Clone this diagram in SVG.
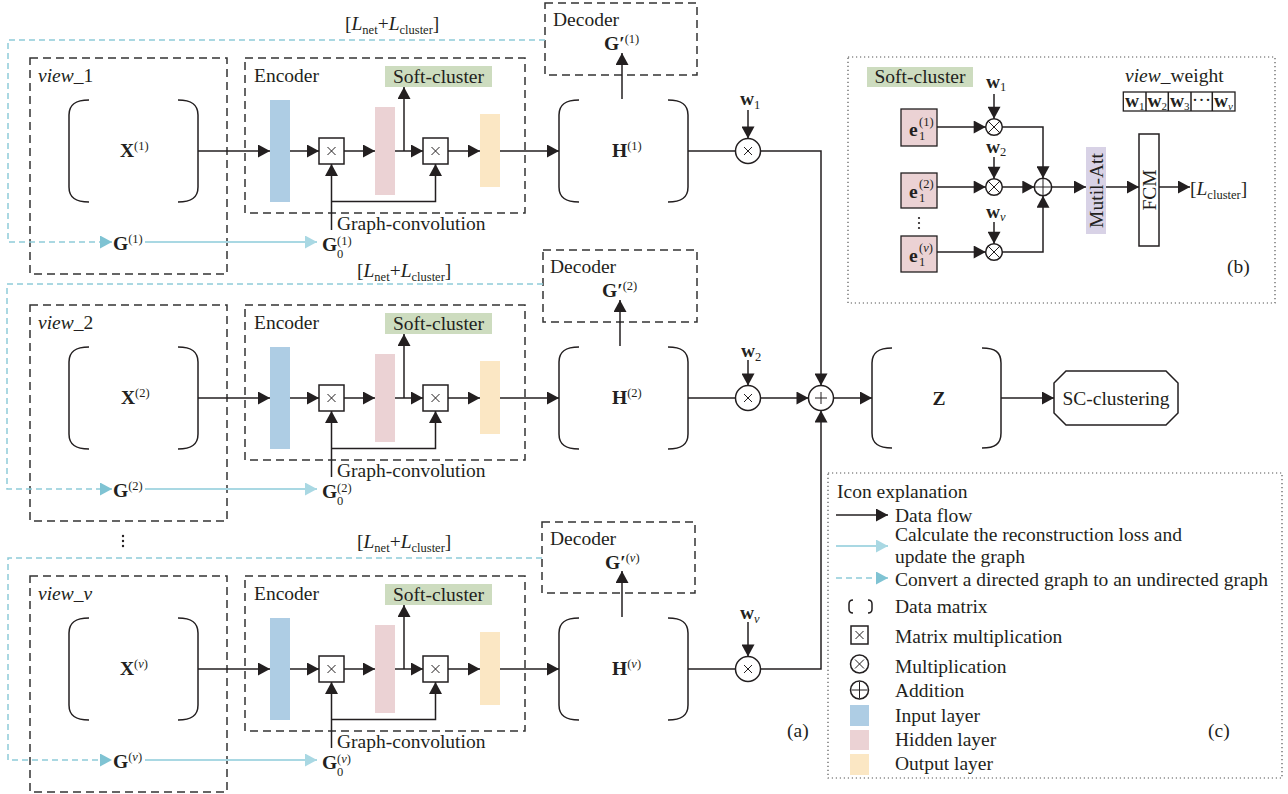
<svg xmlns="http://www.w3.org/2000/svg" width="1288" height="794" viewBox="0 0 1288 794">
<defs>
<style>
.t{font-family:"Liberation Serif","Times New Roman",serif;font-size:19.5px;fill:#231f20}
.s{font-size:12.5px}
.b{font-weight:bold}
.i{font-style:italic}
.dbox{fill:none;stroke:#333;stroke-width:1.5;stroke-dasharray:8 5}
.dot{fill:none;stroke:#555;stroke-width:1.2;stroke-dasharray:1.2 2.8}
.ln{fill:none;stroke:#231f20;stroke-width:1.5}
.br{fill:none;stroke:#231f20;stroke-width:1.5}
.bl{fill:none;stroke:#a9d8e3;stroke-width:2}
.bd{fill:none;stroke:#8ecbd9;stroke-width:1.5;stroke-dasharray:6 4}
.inl{fill:#aecde4}
.hid{fill:#ebd2d4}
.out{fill:#fbe7c4}
.scf{fill:#cddcbf}
.mm{fill:#fff;stroke:#231f20;stroke-width:1.5}
.xm{stroke:#231f20;stroke-width:1}
.ma{fill:#d8d2e6}
</style>
<marker id="ak" markerUnits="userSpaceOnUse" markerWidth="13" markerHeight="13" viewBox="0 0 12 13" refX="12" refY="6.5" orient="auto"><path d="M0,0 L12,6.5 L0,13z" fill="#231f20"/></marker>
<marker id="ab" markerUnits="userSpaceOnUse" markerWidth="13" markerHeight="13" viewBox="0 0 12 13" refX="12" refY="6.5" orient="auto"><path d="M0,0 L12,6.5 L0,13z" fill="#7fc3d3"/></marker>
<marker id="al" markerUnits="userSpaceOnUse" markerWidth="13" markerHeight="13" viewBox="0 0 12 13" refX="12" refY="6.5" orient="auto"><path d="M0,0 L12,6.5 L0,13z" fill="#a9d8e3"/></marker>
</defs>
<rect width="1288" height="794" fill="#fff"/>

<!-- ============ ROW NODES ============ -->
<!-- Row 1 -->
<g transform="translate(0,0)">
<g id="view_1"><rect class="dbox" x="30" y="58" width="197" height="216"/><text class="t" x="38" y="82"><tspan class="i">view</tspan>_1</text></g>
<g id="X_1"><path class="br" d="M89,100 C76,100 69,104 69,115 V187 C69,198 76,202 89,202 M178,100 C191,100 198,104 198,115 V187 C198,198 191,202 178,202"/><text class="t" x="120" y="157"><tspan class="b">X</tspan><tspan class="s" dy="-7">(1)</tspan></text></g>
<g id="encoder_1"><rect class="dbox" x="245" y="58" width="280" height="155"/><text class="t" x="254" y="82">Encoder</text></g>
<g id="input_1"><rect class="inl" x="270" y="100" width="20" height="102"/></g>
<g id="mm1_1"><rect class="mm" x="319" y="138" width="25" height="26"/><path class="xm" d="M327.5,147 l8,8 M335.5,147 l-8,8"/></g>
<g id="hidden_1"><rect class="hid" x="375" y="107" width="20" height="88"/></g>
<g id="mm2_1"><rect class="mm" x="423" y="138" width="25" height="26"/><path class="xm" d="M431.5,147 l8,8 M439.5,147 l-8,8"/></g>
<g id="output_1"><rect class="out" x="480" y="114" width="20" height="73"/></g>
<g id="soft_1"><rect class="scf" x="385" y="66" width="107" height="21"/><text class="t" x="438.5" y="83" text-anchor="middle">Soft-cluster</text></g>
<g id="H_1"><path class="br" d="M579,100 C566,100 559,104 559,115 V187 C559,198 566,202 579,202 M668,100 C681,100 688,104 688,115 V187 C688,198 681,202 668,202"/><text class="t" x="612" y="157"><tspan class="b">H</tspan><tspan class="s" dy="-7">(1)</tspan></text></g>
<g id="decoder_1"><rect class="dbox" x="545" y="3" width="152" height="72"/><text class="t" x="553" y="26">Decoder</text><text class="t" x="604" y="50"><tspan class="b">G′</tspan><tspan class="s" dy="-7">(1)</tspan></text></g>
<g id="loss_1"><text class="t" x="345" y="30">[<tspan class="i">L</tspan><tspan class="s" dy="4">net</tspan><tspan dy="-4">+</tspan><tspan class="i">L</tspan><tspan class="s" dy="4">cluster</tspan><tspan dy="-4">]</tspan></text></g>
<g id="G_1"><text class="t" x="113" y="250"><tspan class="b">G</tspan><tspan class="s" dy="-7">(1)</tspan></text></g>
<g id="G0_1"><text class="t b" x="322" y="251">G</text><text class="t s" x="337" y="245">(1)</text><text class="t s" x="337" y="258">0</text></g>
<g id="gc_1"><text class="t" x="337" y="230">Graph-convolution</text></g>
</g>

<!-- Row 2 -->
<g transform="translate(0,247)">
<g id="view_2"><rect class="dbox" x="30" y="58" width="197" height="216"/><text class="t" x="38" y="82"><tspan class="i">view</tspan>_2</text></g>
<g id="X_2"><path class="br" d="M89,100 C76,100 69,104 69,115 V187 C69,198 76,202 89,202 M178,100 C191,100 198,104 198,115 V187 C198,198 191,202 178,202"/><text class="t" x="121" y="157"><tspan class="b">X</tspan><tspan class="s" dy="-7">(2)</tspan></text></g>
<g id="encoder_2"><rect class="dbox" x="245" y="58" width="280" height="155"/><text class="t" x="254" y="82">Encoder</text></g>
<g id="input_2"><rect class="inl" x="270" y="100" width="20" height="102"/></g>
<g id="mm1_2"><rect class="mm" x="319" y="138" width="25" height="26"/><path class="xm" d="M327.5,147 l8,8 M335.5,147 l-8,8"/></g>
<g id="hidden_2"><rect class="hid" x="375" y="107" width="20" height="88"/></g>
<g id="mm2_2"><rect class="mm" x="423" y="138" width="25" height="26"/><path class="xm" d="M431.5,147 l8,8 M439.5,147 l-8,8"/></g>
<g id="output_2"><rect class="out" x="480" y="114" width="20" height="73"/></g>
<g id="soft_2"><rect class="scf" x="385" y="66" width="107" height="21"/><text class="t" x="438.5" y="83" text-anchor="middle">Soft-cluster</text></g>
<g id="H_2"><path class="br" d="M579,100 C566,100 559,104 559,115 V187 C559,198 566,202 579,202 M668,100 C681,100 688,104 688,115 V187 C688,198 681,202 668,202"/><text class="t" x="612" y="157"><tspan class="b">H</tspan><tspan class="s" dy="-7">(2)</tspan></text></g>
<g id="decoder_2"><rect class="dbox" x="543" y="3" width="154" height="72"/><text class="t" x="550" y="26">Decoder</text><text class="t" x="602" y="50"><tspan class="b">G′</tspan><tspan class="s" dy="-7">(2)</tspan></text></g>
<g id="loss_2"><text class="t" x="357" y="30">[<tspan class="i">L</tspan><tspan class="s" dy="4">net</tspan><tspan dy="-4">+</tspan><tspan class="i">L</tspan><tspan class="s" dy="4">cluster</tspan><tspan dy="-4">]</tspan></text></g>
<g id="G_2"><text class="t" x="113" y="250"><tspan class="b">G</tspan><tspan class="s" dy="-7">(2)</tspan></text></g>
<g id="G0_2"><text class="t b" x="322" y="251">G</text><text class="t s" x="337" y="245">(2)</text><text class="t s" x="337" y="258">0</text></g>
<g id="gc_2"><text class="t" x="337" y="230">Graph-convolution</text></g>
</g>

<!-- Row v -->
<g transform="translate(0,518)">
<g id="view_v"><rect class="dbox" x="30" y="58" width="197" height="216"/><text class="t" x="38" y="82"><tspan class="i">view</tspan>_<tspan class="i">v</tspan></text></g>
<g id="X_v"><path class="br" d="M89,100 C76,100 69,104 69,115 V187 C69,198 76,202 89,202 M178,100 C191,100 198,104 198,115 V187 C198,198 191,202 178,202"/><text class="t" x="120" y="157"><tspan class="b">X</tspan><tspan class="s" dy="-7">(<tspan class="i">v</tspan>)</tspan></text></g>
<g id="encoder_v"><rect class="dbox" x="245" y="58" width="280" height="155"/><text class="t" x="254" y="82">Encoder</text></g>
<g id="input_v"><rect class="inl" x="270" y="100" width="20" height="102"/></g>
<g id="mm1_v"><rect class="mm" x="319" y="138" width="25" height="26"/><path class="xm" d="M327.5,147 l8,8 M335.5,147 l-8,8"/></g>
<g id="hidden_v"><rect class="hid" x="375" y="107" width="20" height="88"/></g>
<g id="mm2_v"><rect class="mm" x="423" y="138" width="25" height="26"/><path class="xm" d="M431.5,147 l8,8 M439.5,147 l-8,8"/></g>
<g id="output_v"><rect class="out" x="480" y="114" width="20" height="73"/></g>
<g id="soft_v"><rect class="scf" x="385" y="66" width="107" height="21"/><text class="t" x="438.5" y="83" text-anchor="middle">Soft-cluster</text></g>
<g id="H_v"><path class="br" d="M579,100 C566,100 559,104 559,115 V187 C559,198 566,202 579,202 M668,100 C681,100 688,104 688,115 V187 C688,198 681,202 668,202"/><text class="t" x="612" y="157"><tspan class="b">H</tspan><tspan class="s" dy="-7">(<tspan class="i">v</tspan>)</tspan></text></g>
<g id="decoder_v"><rect class="dbox" x="542" y="4" width="153" height="71"/><text class="t" x="550" y="27">Decoder</text><text class="t" x="605" y="51"><tspan class="b">G′</tspan><tspan class="s" dy="-7">(<tspan class="i">v</tspan>)</tspan></text></g>
<g id="loss_v"><text class="t" x="357" y="30">[<tspan class="i">L</tspan><tspan class="s" dy="4">net</tspan><tspan dy="-4">+</tspan><tspan class="i">L</tspan><tspan class="s" dy="4">cluster</tspan><tspan dy="-4">]</tspan></text></g>
<g id="G_v"><text class="t" x="113" y="250"><tspan class="b">G</tspan><tspan class="s" dy="-7">(<tspan class="i">v</tspan>)</tspan></text></g>
<g id="G0_v"><text class="t b" x="322" y="251">G</text><text class="t s" x="337" y="245">(<tspan class="i">v</tspan>)</text><text class="t s" x="337" y="258">0</text></g>
<g id="gc_v"><text class="t" x="337" y="230">Graph-convolution</text></g>
</g>

<g id="vdots"><circle cx="123" cy="536" r="1.2" fill="#231f20"/><circle cx="123" cy="541" r="1.2" fill="#231f20"/><circle cx="123" cy="546" r="1.2" fill="#231f20"/></g>

<!-- weighting / fusion -->
<g id="wmul_1"><circle class="mm" cx="748" cy="151" r="12.5"/><path class="xm" d="M744,147 l8,8 M752,147 l-8,8"/><text class="t" x="740" y="105"><tspan class="b">w</tspan><tspan class="s" dy="4">1</tspan></text></g>
<g id="wmul_2"><circle class="mm" cx="748" cy="398" r="12.5"/><path class="xm" d="M744,394 l8,8 M752,394 l-8,8"/><text class="t" x="741" y="357"><tspan class="b">w</tspan><tspan class="s" dy="4">2</tspan></text></g>
<g id="wmul_v"><circle class="mm" cx="748" cy="669" r="12.5"/><path class="xm" d="M744,665 l8,8 M752,665 l-8,8"/><text class="t" x="740" y="619"><tspan class="b">w</tspan><tspan class="s i" dy="4">v</tspan></text></g>
<g id="add"><circle class="mm" cx="821" cy="398" r="12.5"/><path class="xm" d="M821,392 v12 M815,398 h12"/></g>
<g id="Z"><path class="br" d="M892,348 C879,348 872,352 872,363 V433 C872,444 879,448 892,448 M982,348 C995,348 1001,352 1001,363 V433 C1001,444 995,448 982,448"/><text class="t b" x="939" y="405" text-anchor="middle">Z</text></g>
<g id="sc"><polygon class="mm" points="1066,371 1166,371 1178,383 1178,413 1166,425 1066,425 1054,413 1054,383"/><text class="t" x="1116" y="405" text-anchor="middle">SC-clustering</text></g>
<g id="label_a"><text class="t" x="787" y="737">(a)</text></g>

<!-- ============ CONNECTORS ============ -->
<g id="connectors">
<g transform="translate(0,0)">
<path class="bd" d="M545,40 H8 V242 H112" marker-end="url(#ab)"/>
<path class="bl" d="M145,242 H317" marker-end="url(#al)"/>
<path class="ln" d="M198,151 H270" marker-end="url(#ak)"/>
<path class="ln" d="M290,151 H319" marker-end="url(#ak)"/>
<path class="ln" d="M344,151 H375" marker-end="url(#ak)"/>
<path class="ln" d="M395,151 H423" marker-end="url(#ak)"/>
<path class="ln" d="M404,151 V87" marker-end="url(#ak)"/>
<path class="ln" d="M448,151 H480" marker-end="url(#ak)"/>
<path class="ln" d="M500,151 H559" marker-end="url(#ak)"/>
<path class="ln" d="M622,99 V53" marker-end="url(#ak)"/>
<path class="ln" d="M331.5,230 V164" marker-end="url(#ak)"/>
<path class="ln" d="M331.5,201.5 H435.5 V164" marker-end="url(#ak)"/>
<path class="ln" d="M688,151 H735.5"/>
</g>
<g transform="translate(0,247)">
<path class="bd" d="M543,37 H7 V242 H112" marker-end="url(#ab)"/>
<path class="bl" d="M145,242 H317" marker-end="url(#al)"/>
<path class="ln" d="M198,151 H270" marker-end="url(#ak)"/>
<path class="ln" d="M290,151 H319" marker-end="url(#ak)"/>
<path class="ln" d="M344,151 H375" marker-end="url(#ak)"/>
<path class="ln" d="M395,151 H423" marker-end="url(#ak)"/>
<path class="ln" d="M404,151 V87" marker-end="url(#ak)"/>
<path class="ln" d="M448,151 H480" marker-end="url(#ak)"/>
<path class="ln" d="M500,151 H559" marker-end="url(#ak)"/>
<path class="ln" d="M620,99 V53" marker-end="url(#ak)"/>
<path class="ln" d="M331.5,230 V164" marker-end="url(#ak)"/>
<path class="ln" d="M331.5,201.5 H435.5 V164" marker-end="url(#ak)"/>
<path class="ln" d="M688,151 H735.5"/>
</g>
<g transform="translate(0,518)">
<path class="bd" d="M542,40 H8 V242 H112" marker-end="url(#ab)"/>
<path class="bl" d="M145,242 H317" marker-end="url(#al)"/>
<path class="ln" d="M198,151 H270" marker-end="url(#ak)"/>
<path class="ln" d="M290,151 H319" marker-end="url(#ak)"/>
<path class="ln" d="M344,151 H375" marker-end="url(#ak)"/>
<path class="ln" d="M395,151 H423" marker-end="url(#ak)"/>
<path class="ln" d="M404,151 V87" marker-end="url(#ak)"/>
<path class="ln" d="M448,151 H480" marker-end="url(#ak)"/>
<path class="ln" d="M500,151 H559" marker-end="url(#ak)"/>
<path class="ln" d="M622,99 V53" marker-end="url(#ak)"/>
<path class="ln" d="M331.5,230 V164" marker-end="url(#ak)"/>
<path class="ln" d="M331.5,201.5 H435.5 V164" marker-end="url(#ak)"/>
<path class="ln" d="M688,151 H735.5"/>
</g>
<path class="ln" d="M748,110 V138.5" marker-end="url(#ak)"/>
<path class="ln" d="M748,360 V385.5" marker-end="url(#ak)"/>
<path class="ln" d="M748,622 V656.5" marker-end="url(#ak)"/>
<path class="ln" d="M760.5,151 H821 V385.5" marker-end="url(#ak)"/>
<path class="ln" d="M760.5,398 H808.5" marker-end="url(#ak)"/>
<path class="ln" d="M760.5,669 H821 V410.5" marker-end="url(#ak)"/>
<path class="ln" d="M833.5,398 H872" marker-end="url(#ak)"/>
<path class="ln" d="M1001,398 H1054" marker-end="url(#ak)"/>
<!-- panel b connectors -->
<path class="ln" d="M937,127 H985.7" marker-end="url(#ak)"/>
<path class="ln" d="M937,187 H985.7" marker-end="url(#ak)"/>
<path class="ln" d="M937,252 H985.7" marker-end="url(#ak)"/>
<path class="ln" d="M994,94 V118.7" marker-end="url(#ak)"/>
<path class="ln" d="M994,157 V178.7" marker-end="url(#ak)"/>
<path class="ln" d="M994,222 V243.7" marker-end="url(#ak)"/>
<path class="ln" d="M1002.3,127 H1043 V178.3" marker-end="url(#ak)"/>
<path class="ln" d="M1002.3,187 H1034.3" marker-end="url(#ak)"/>
<path class="ln" d="M1002.3,252 H1043 V195.7" marker-end="url(#ak)"/>
<path class="ln" d="M1051.7,187 H1086" marker-end="url(#ak)"/>
<path class="ln" d="M1106,187 H1139" marker-end="url(#ak)"/>
<path class="ln" d="M1159,187 H1190" marker-end="url(#ak)"/>
</g>

<!-- ============ PANEL (b) ============ -->
<g id="panel_b">
<rect class="dot" x="848" y="57" width="427" height="246"/>
<g id="b_soft"><rect class="scf" x="867" y="67" width="106" height="20"/><text class="t" x="920" y="83" text-anchor="middle">Soft-cluster</text></g>
<g id="b_vw"><text class="t" x="1125" y="82"><tspan class="i">view</tspan>_weight</text>
<rect x="1123.3" y="92" width="111.7" height="19" fill="#fff" stroke="#231f20" stroke-width="1.3"/>
<path class="ln" d="M1146,92 v19 M1168.3,92 v19 M1191,92 v19 M1212.3,92 v19" stroke-width="1.3"/>
<text class="t" x="1125" y="107" font-size="16"><tspan class="b">w</tspan><tspan font-size="11" dy="3">1</tspan></text>
<text class="t" x="1147.5" y="107" font-size="16"><tspan class="b">w</tspan><tspan font-size="11" dy="3">2</tspan></text>
<text class="t" x="1170" y="107" font-size="16"><tspan class="b">w</tspan><tspan font-size="11" dy="3">3</tspan></text>
<text class="t" x="1201.6" y="106" font-size="16" text-anchor="middle">···</text>
<text class="t" x="1214" y="107" font-size="16"><tspan class="b">w</tspan><tspan font-size="11" dy="3" class="i">v</tspan></text>
</g>
<g id="b_e1"><rect class="hid" x="901" y="109" width="36" height="37" stroke="#231f20" stroke-width="1.3"/><text class="t b" x="909" y="136">e</text><text class="t s" x="919" y="126">(1)</text><text class="t s" x="919" y="140">1</text></g>
<g id="b_e2"><rect class="hid" x="901" y="173" width="36" height="35" stroke="#231f20" stroke-width="1.3"/><text class="t b" x="909" y="198">e</text><text class="t s" x="919" y="188">(2)</text><text class="t s" x="919" y="202">1</text></g>
<g id="b_ev"><rect class="hid" x="901" y="236" width="36" height="36" stroke="#231f20" stroke-width="1.3"/><text class="t b" x="909" y="262">e</text><text class="t s" x="919" y="252">(<tspan class="i">v</tspan>)</text><text class="t s" x="919" y="266">1</text></g>
<g id="b_dots"><circle cx="919" cy="218" r="1.1" fill="#231f20"/><circle cx="919" cy="223" r="1.1" fill="#231f20"/><circle cx="919" cy="228" r="1.1" fill="#231f20"/></g>
<g id="b_m1"><circle class="mm" cx="994" cy="127" r="8.3"/><path class="xm" d="M988.1,121.1 l11.8,11.8 M999.9,121.1 l-11.8,11.8"/><text class="t" x="986" y="88"><tspan class="b">w</tspan><tspan class="s" dy="3">1</tspan></text></g>
<g id="b_m2"><circle class="mm" cx="994" cy="187" r="8.3"/><path class="xm" d="M988.1,181.1 l11.8,11.8 M999.9,181.1 l-11.8,11.8"/><text class="t" x="986" y="153"><tspan class="b">w</tspan><tspan class="s" dy="3">2</tspan></text></g>
<g id="b_mv"><circle class="mm" cx="994" cy="252" r="8.3"/><path class="xm" d="M988.1,246.1 l11.8,11.8 M999.9,246.1 l-11.8,11.8"/><text class="t" x="986" y="218"><tspan class="b">w</tspan><tspan class="s i" dy="3">v</tspan></text></g>
<g id="b_add"><circle class="mm" cx="1043" cy="187" r="8.7"/><path class="xm" d="M1043,178.3 v17.4 M1034.3,187 h17.4"/></g>
<g id="b_att"><rect class="ma" x="1086" y="147" width="20" height="87"/><text class="t" transform="translate(1102.5,190.5) rotate(-90)" text-anchor="middle">Mutil-Att</text></g>
<g id="b_fcm"><rect class="mm" x="1139" y="134" width="20" height="112"/><text class="t" transform="translate(1155.5,190) rotate(-90)" text-anchor="middle">FCM</text></g>
<g id="b_loss"><text class="t" x="1190" y="195">[<tspan class="i">L</tspan><tspan class="s" dy="4">cluster</tspan><tspan dy="-4">]</tspan></text></g>
<text class="t" x="1227" y="273">(b)</text>
</g>

<!-- ============ PANEL (c) ============ -->
<g id="panel_c">
<rect class="dot" x="828" y="473" width="454" height="305"/>
<text class="t" x="837" y="498">Icon explanation</text>
<path class="ln" d="M836,515 H888" marker-end="url(#ak)"/>
<text class="t" x="895" y="522">Data flow</text>
<path class="bl" d="M836,546 H888" marker-end="url(#al)"/>
<text class="t" x="895" y="541">Calculate the reconstruction loss and</text>
<text class="t" x="895" y="563">update the graph</text>
<path class="bd" d="M836,578 H888" marker-end="url(#ab)"/>
<text class="t" x="895" y="585.5">Convert a directed graph to an undirected graph</text>
<path class="br" d="M853,600 Q849,600 849,604 V609 Q849,613 853,613 M868,600 Q872,600 872,604 V609 Q872,613 868,613"/>
<text class="t" x="895" y="613">Data matrix</text>
<rect class="mm" x="851" y="626" width="17" height="18"/><path class="xm" d="M855.5,631 l8,8 M863.5,631 l-8,8"/>
<text class="t" x="895" y="643">Matrix multiplication</text>
<circle class="mm" cx="859.5" cy="664" r="9"/><path class="xm" d="M855,659.5 l9,9 M864,659.5 l-9,9"/>
<text class="t" x="895" y="673">Multiplication</text>
<circle class="mm" cx="859.5" cy="690" r="9"/><path class="xm" d="M859.5,682 v16 M851.5,690 h16"/>
<text class="t" x="895" y="697">Addition</text>
<rect class="inl" x="850" y="705" width="19" height="21"/>
<text class="t" x="895" y="722">Input layer</text>
<rect class="hid" x="850" y="730" width="19" height="20"/>
<text class="t" x="895" y="746">Hidden layer</text>
<rect class="out" x="850" y="754" width="19" height="21"/>
<text class="t" x="895" y="770">Output layer</text>
<text class="t" x="1208" y="737">(c)</text>
</g>
</svg>
